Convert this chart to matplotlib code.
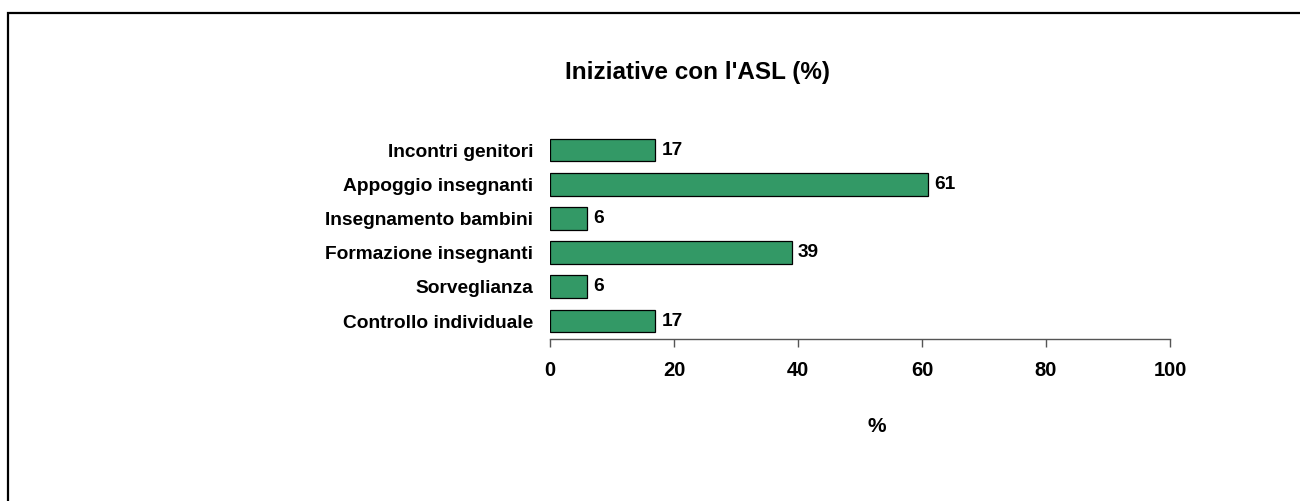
import numpy as np
import matplotlib.pyplot as plt
from matplotlib.patches import Rectangle

# data (bottom to top)
categories = ['Controllo individuale', 'Sorveglianza', 'Formazione insegnanti',
              'Insegnamento bambini', 'Appoggio insegnanti', 'Incontri genitori']
values = [17, 6, 39, 6, 61, 17]
x_ticks = [0, 20, 40, 60, 80, 100]

plt.rcParams['font.family'] = ['Liberation Sans', 'DejaVu Sans']
plt.rcParams['font.weight'] = 'bold'

W, H = 1300, 501
fig = plt.figure(figsize=(W / 100, H / 100), dpi=100)

# outer frame (open on the right and bottom edges)
frame = Rectangle((7.5 / W, -0.05), 1.1, 1 - 12.5 / H + 0.05, transform=fig.transFigure,
                  fill=False, edgecolor='black', linewidth=1.6)
fig.patches.append(frame)

ax = fig.add_axes([550 / W, (H - 339) / H, 620 / W, 206.1 / H])
ypos = np.arange(len(categories))
bars = ax.barh(ypos, values, height=0.67, color='#339966', edgecolor='black', linewidth=0.9)

for y, v in zip(ypos, values):
    ax.text(v + 1.0, y, str(v), va='center', ha='left', fontsize=13.7, fontweight='bold')

ax.set_xlim(0, 100)
ax.set_ylim(-0.526, 5.5)
ax.set_xticks(x_ticks)
ax.set_yticks(ypos)
ax.set_yticklabels(categories, fontsize=13.8, fontweight='bold')
ax.tick_params(axis='y', length=0, pad=12)
ax.tick_params(axis='x', length=6, width=1, color='#555555', labelsize=14.5, pad=9.5)
for lab in ax.get_xticklabels():
    lab.set_fontweight('bold')
for s in ['top', 'right', 'left']:
    ax.spines[s].set_visible(False)
ax.spines['bottom'].set_color('#555555')
ax.spines['bottom'].set_linewidth(1)

fig.text(697 / W, 1 - 73 / H, "Iniziative con l'ASL (%)", ha='center', va='center',
         fontsize=17.5, fontweight='bold')
fig.text(877 / W, 1 - 426 / H, '%', ha='center', va='center', fontsize=15, fontweight='bold')

fig.savefig('out.png', dpi=100)
